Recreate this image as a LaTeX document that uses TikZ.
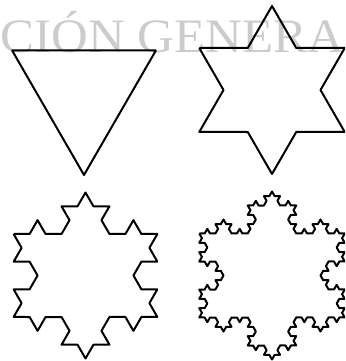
\documentclass[tikz,border=0pt]{standalone}
\usepackage{fontspec}
\newfontfamily\watermarkfont{Liberation Serif}
\usetikzlibrary{decorations.fractals}
\tikzset{
  koch/.style={draw=black, line width=2pt, line join=round, decoration=Koch snowflake},
  watermark/.style={text=black!20, font=\watermarkfont\fontsize{48}{48}\selectfont, inner sep=0pt}
}
\begin{document}
\begin{tikzpicture}[x=1pt,y=1pt]
\clip (0,0) rectangle (345,361);
% faint text behind the figures
\node[watermark, anchor=base, xscale=1.06, transform shape] (title) at (172.5,308) {CIÓN GENERA};
% step 0
\draw[koch, shift={(84,269)}] (150:83) -- (30:83) -- (270:83) -- cycle;
% step 1
\draw[koch, shift={(272,271)}] decorate{ (150:84) -- (30:84) -- (270:84) -- cycle };
% step 2
\draw[koch, shift={(85.5,85.5)}] decorate{ decorate{ (150:83) -- (30:83) -- (270:83) -- cycle }};
% step 3
\draw[koch, shift={(272,85.5)}] decorate{ decorate{ decorate{ (150:84) -- (30:84) -- (270:84) -- cycle }}};
\end{tikzpicture}
\end{document}
